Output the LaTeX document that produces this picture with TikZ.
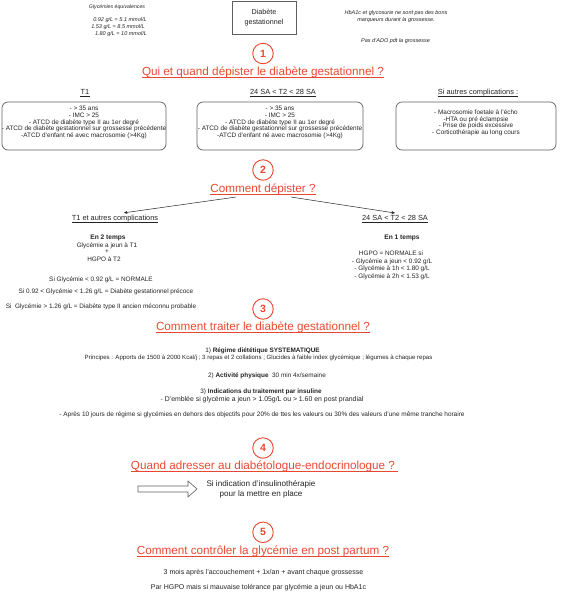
\documentclass[tikz,border=0pt]{standalone}
\usepackage{fontspec}
\setmainfont{Liberation Sans}
\usetikzlibrary{arrows.meta}
\definecolor{hred}{RGB}{234,72,46}
\definecolor{ink}{RGB}{35,35,35}
\definecolor{frame}{RGB}{95,95,95}
\newcommand{\fz}[2]{\fontsize{#1}{#2}\selectfont}
\newcommand{\underl}[3][ink]{\draw[#1, line width=0.6pt] ([yshift=-1.8pt]#2.base west) -- ([yshift=-1.8pt,xshift=#3]#2.base east);}
\begin{document}
\begin{tikzpicture}[x=1pt,y=-1pt,
  every node/.style={inner sep=0pt, text=ink},
  num/.style={circle, draw=hred, line width=0.9pt, minimum size=20.5pt, text=hred, font=\fz{10.5}{12}\bfseries},
  head/.style={anchor=base, text=hred, font=\fz{11.7}{14}},
  sub/.style={anchor=base, font=\fz{7.4}{9}},
  bt/.style={align=center, font=\fz{6.4}{6.6}},
  ta/.style={anchor=base, font=\fz{6.4}{7}},
  tb/.style={anchor=base, font=\fz{6.6}{7}\bfseries},
  tc/.style={anchor=base, font=\fz{6.4}{7}},
  td/.style={anchor=base, font=\fz{7}{8}},
  te/.style={anchor=base, font=\fz{8.1}{9}},
  it/.style={anchor=base, font=\fz{5.5}{7}\itshape},
  rbox/.style={draw=frame, line width=0.7pt, rounded corners=6pt, minimum height=48pt},
  arr/.style={draw=ink, line width=0.5pt, -{Stealth[length=3.5pt,width=3pt]}}
]
\useasboundingbox (0,0) rectangle (562,600);

% top
\node[it, font=\fz{5.2}{6}\itshape] (gly) at (117,8.4) {Glycémies équivalences};
\node[it] (e1) at (120,21.8) {0.92 g/L = 5.1 mmol/L};
\node[it] (e2) at (118,28.5) {1.53 g/L = 8.5 mmol/L};
\node[it] (e3) at (121,35.8) {1.80 g/L = 10 mmol/L};
\node[draw=frame, line width=0.8pt, minimum width=64pt, minimum height=32.5pt, align=center, font=\fz{7.2}{10.2}] (dg) at (264,17.7) {Diabète\\gestationnel};
\node[it] (hb1) at (396,14.2) {HbA1c et glycosurie ne sont pas des bons};
\node[it] (hb2) at (396,21.9) {marqueurs durant la grossesse.};
\node[it] (ado) at (395.5,42.6) {Pas d'ADO pdt la grossesse};

% section 1
\node[num] (c1) at (263,53.5) {1};
\node[head] (h1) at (263,75.5) {Qui et quand dépister le diabète gestationnel ?};
\underl[hred]{h1}{0pt}
\node[sub] (s1a) at (85,94) {T1};
\underl{s1a}{0pt}
\node[sub] (s1b) at (283,94) {24 SA < T2 < 28 SA};
\underl{s1b}{0pt}
\node[sub] (s1c) at (478,94) {Si autres complications :};
\underl{s1c}{0pt}
\node[rbox, minimum width=164pt] (b1) at (84,126) {};
\node[rbox, minimum width=166pt] (b2) at (280,126) {};
\node[rbox, minimum width=160pt] (b3) at (476,126) {};
\node[bt] (t1) at (84,122.5) {- > 35 ans\\- IMC > 25\\- ATCD de diabète type II au 1er degré\\- ATCD de diabète gestationnel sur grossesse précédente\\-ATCD d'enfant né avec macrosomie (>4Kg)};
\node[bt] (t2) at (280,122.5) {- > 35 ans\\- IMC > 25\\- ATCD de diabète type II au 1er degré\\- ATCD de diabète gestationnel sur grossesse précédente\\-ATCD d'enfant né avec macrosomie (>4Kg)};
\node[bt] (t3) at (476,123) {- Macrosomie foetale à l'écho\\-HTA ou pré éclampsie\\- Prise de poids excessive\\- Corticothérapie au long cours};

% section 2
\node[num] (c2) at (263,170) {2};
\node[head] (h2) at (263,192.2) {Comment dépister ?};
\underl[hred]{h2}{0pt}
\node[sub] (s2a) at (115,220.7) {T1 et autres complications};
\underl{s2a}{0pt}
\node[sub] (s2b) at (395,220.7) {24 SA < T2 < 28 SA};
\underl{s2b}{0pt}
\draw[arr] ([xshift=26pt,yshift=-4.8pt]h2.base west) -- ([xshift=9pt,yshift=2.3pt]s2a.north);
\draw[arr] ([xshift=-25pt,yshift=-4.8pt]h2.base east) -- ([yshift=2.3pt]s2b.north);
\node[tb] (l0) at (108,239) {En 2 temps};
\node[ta] (l1) at (107,247.7) {Glycémie a jeun à T1};
\node[ta] (l2) at (107,253.2) {+};
\node[ta] (l3) at (104,261) {HGPO à T2};
\node[ta] (l4) at (101,281.3) {Si Glycémie < 0.92 g/L = NORMALE};
\node[ta] (l5) at (106,293) {Si 0.92 < Glycémie < 1.26 g/L = Diabète gestationnel précoce};
\node[ta] (l6) at (101,308.7) {Si~ Glycémie > 1.26 g/L = Diabète type II ancien méconnu probable};
\node[tb] (r0) at (402,239) {En 1 temps};
\node[ta] (r1) at (391,255.3) {HGPO = NORMALE si};
\node[ta] (r2) at (392,263) {- Glycémie a jeun < 0.92 g/L};
\node[ta] (r3) at (392,270.3) {- Glycémie à 1h < 1.80 g/L};
\node[ta] (r4) at (392,278) {- Glycémie à 2h < 1.53 g/L};

% section 3
\node[num] (c3) at (263,309) {3};
\node[head] (h3) at (263,330.6) {Comment traiter le diabète gestationnel ?};
\underl[hred]{h3}{0pt}
\node[tc] (m1) at (262.5,352) {1) \textbf{Régime diététique SYSTEMATIQUE}};
\node[tc, font=\fz{6.1}{7}] (m2) at (258.6,359.7) {Principes : Apports de 1500 à 2000 Kcal/j ; 3 repas et 2 collations ; Glucides à faible index glycémique ; légumes à chaque repas};
\node[tc] (m3) at (267,377) {2) \textbf{Activité physique}~ 30 min 4x/semaine};
\node[tc] (m4) at (261,393) {3) \textbf{Indications du traitement par insuline}};
\node[tc, font=\fz{6.9}{7}] (m5) at (262,401) {- D'emblée si glycémie a jeun > 1.05g/L ou > 1.60 en post prandial};
\node[tc, font=\fz{6.45}{7}] (m6) at (262,416.3) {- Après 10 jours de régime si glycémies en dehors des objectifs pour 20\% de ttes les valeurs ou 30\% des valeurs d'une même tranche horaire};

% section 4
\node[num] (c4) at (263,448) {4};
\node[head] (h4) at (263,469) {Quand adresser au diabétologue-endocrinologue ?};
\underl[hred]{h4}{3pt}
\draw[draw=frame, line width=0.6pt] (138,486) -- (188,486) -- (188,481) -- (197,489) -- (188,497) -- (188,492) -- (138,492) -- cycle;
\node[te] (q1) at (261,486) {Si indication d'insulinothérapie};
\node[te] (q2) at (261,496.5) {pour la mettre en place};

% section 5
\node[num] (c5) at (263,532.3) {5};
\node[head] (h5) at (263,554.6) {Comment contrôler la glycémie en post partum ?};
\underl[hred]{h5}{0pt}
\node[td] (p1) at (263.5,574) {3 mois après l'accouchement + 1x/an + avant chaque grossesse};
\node[td] (p2) at (258.5,589.6) {Par HGPO mais si mauvaise tolérance par glycémie a jeun ou HbA1c};
\end{tikzpicture}
\end{document}
